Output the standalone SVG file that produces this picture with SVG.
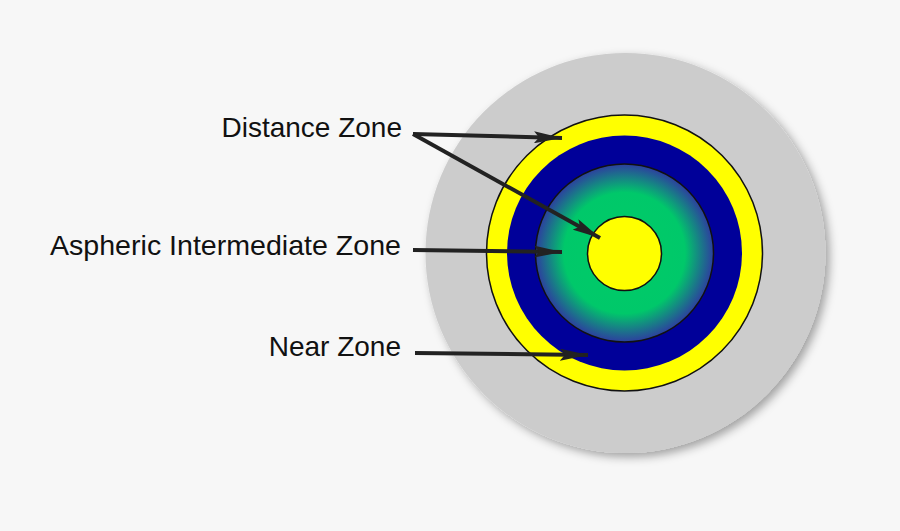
<svg xmlns="http://www.w3.org/2000/svg" width="900" height="531" viewBox="0 0 900 531">
<style>
.lbl{font-family:"Liberation Sans",Arial,sans-serif;font-size:28px;fill:#111;text-anchor:end}
.ring{stroke:#111;stroke-width:1.5}
.conn{stroke:#222;stroke-width:4;fill:none}
</style>
<defs>
<radialGradient id="g" cx="0.5" cy="0.5" r="0.5">
<stop offset="0" stop-color="#00cc66"/>
<stop offset="0.68" stop-color="#00c86a"/>
<stop offset="1" stop-color="#2d3f9f"/>
</radialGradient>
<filter id="sh" x="-20%" y="-20%" width="140%" height="140%">
<feDropShadow dx="4" dy="4" stdDeviation="5" flood-color="#000" flood-opacity="0.35"/>
</filter>
<marker id="ah" viewBox="0 0 28 12" refX="28" refY="6" markerWidth="28" markerHeight="12" markerUnits="userSpaceOnUse" orient="auto">
<path d="M0,0 L28,6 L0,12 L5,6 Z" fill="#222"/>
</marker>
</defs>
<rect width="900" height="531" fill="#f7f7f7"/>
<g id="lens">
<circle cx="625.5" cy="253" r="200" fill="#cccccc" filter="url(#sh)"/>
<circle class="ring" cx="624.5" cy="253" r="138" fill="#ffff00"/>
<circle cx="624.5" cy="253" r="117.5" fill="#000099"/>
<circle class="ring" cx="624.5" cy="253" r="89" fill="url(#g)"/>
<circle class="ring" cx="624.5" cy="253.5" r="37" fill="#ffff00"/>
</g>
<g id="connectors">
<line class="conn" x1="413" y1="134" x2="562" y2="138" marker-end="url(#ah)"/>
<line class="conn" x1="413" y1="134" x2="600" y2="238" marker-end="url(#ah)"/>
<line class="conn" x1="413" y1="250" x2="562" y2="252" marker-end="url(#ah)"/>
<line class="conn" x1="415" y1="353" x2="588" y2="355" marker-end="url(#ah)"/>
</g>
<g id="label-distance"><text class="lbl" x="402" y="137">Distance Zone</text></g>
<g id="label-aspheric"><text class="lbl" x="401" y="255" textLength="351" lengthAdjust="spacingAndGlyphs">Aspheric Intermediate Zone</text></g>
<g id="label-near"><text class="lbl" x="401" y="356">Near Zone</text></g>
</svg>
